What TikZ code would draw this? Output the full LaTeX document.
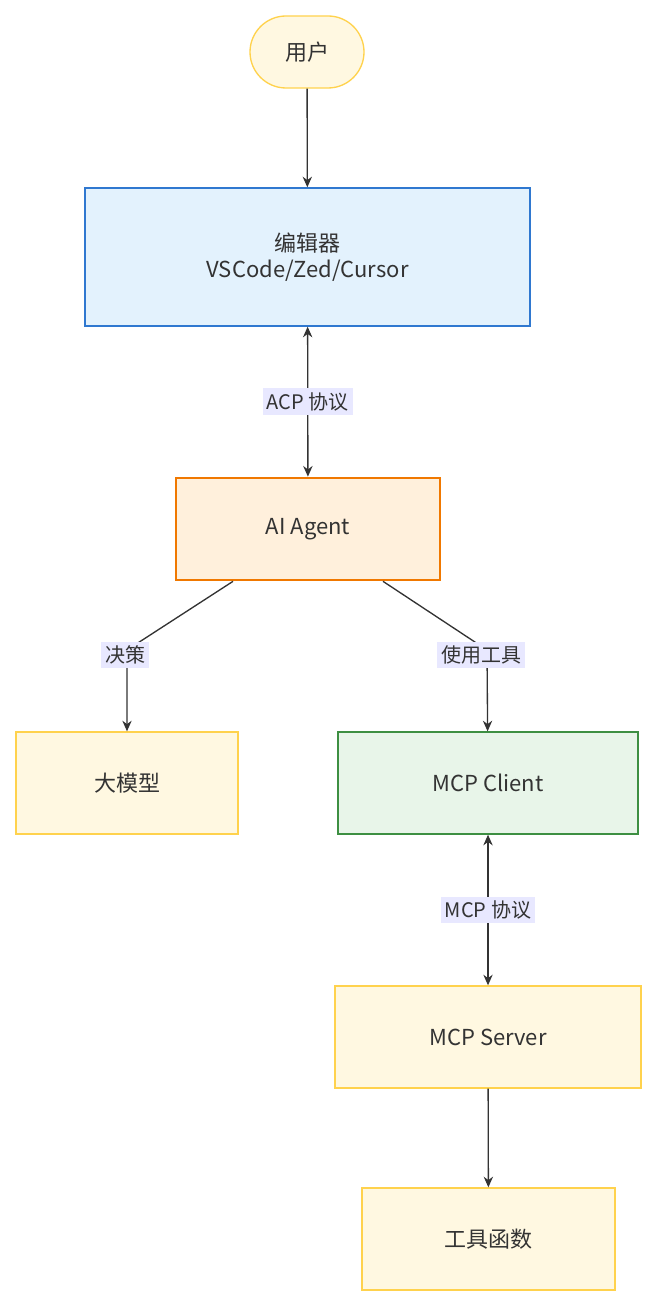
\documentclass[tikz,border=0pt]{standalone}
\usepackage{fontspec}
\setmainfont{Noto Sans CJK SC}
\usetikzlibrary{arrows.meta,positioning}
\definecolor{ink}{HTML}{333333}
\definecolor{yfill}{HTML}{FFF8E1}
\definecolor{ydraw}{HTML}{FFD24D}
\definecolor{bfill}{HTML}{E3F2FD}
\definecolor{bdraw}{HTML}{2F78D0}
\definecolor{ofill}{HTML}{FFF0DC}
\definecolor{odraw}{HTML}{F07800}
\definecolor{gfill}{HTML}{E8F5E9}
\definecolor{gdraw}{HTML}{3D8F42}
\definecolor{lblfill}{HTML}{E8E8FF}
\begin{document}
\begin{tikzpicture}[x=0.75pt,y=-0.75pt,>={Stealth[length=8pt,width=7pt]},
    font=\fontsize{16.5}{19}\selectfont,text=ink,
    box/.style={draw,line width=1pt,inner sep=0pt},
    plain box/.style={box,fill=yfill,draw=ydraw},
    arr/.style={->,draw=ink,line width=1pt},
    biarr/.style={<->,draw=ink,line width=1pt},
    lbl/.style={fill=lblfill,inner sep=3pt,font=\fontsize{15}{18}\selectfont}]
  \useasboundingbox (0,0) rectangle (658,1308);

  \node[box,fill=yfill,draw=ydraw,rounded corners=27pt,minimum width=85.5pt,minimum height=54pt] (user) at (307,52) {用户};
  \node[box,fill=bfill,draw=bdraw,minimum width=333.75pt,minimum height=103.5pt,align=center] (editor) at (307.5,257) {编辑器\\VSCode/Zed/Cursor};
  \node[box,fill=ofill,draw=odraw,line width=2pt,minimum width=198pt,minimum height=76.5pt] (agent) at (308,529) {AI Agent};
  \node[plain box,minimum width=166.5pt,minimum height=76.5pt] (model) at (127,783) {大模型};
  \node[box,fill=gfill,draw=gdraw,minimum width=225pt,minimum height=76.5pt] (client) at (488,783) {MCP Client};
  \node[plain box,minimum width=229.5pt,minimum height=76.5pt] (server) at (488,1037) {MCP Server};
  \node[plain box,minimum width=189.75pt,minimum height=76.5pt] (tools) at (488.5,1239) {工具函数};

  \coordinate (bendL) at (127,650);
  \coordinate (bendR) at (487,650);

  \draw[arr] (user) -- (editor);
  \draw[biarr] (editor) -- node[lbl] {ACP 协议} (agent);
  \draw[arr] ([xshift=-56.25pt]agent.south) -- (bendL) -- (model);
  \draw[arr] ([xshift=56.25pt]agent.south) -- (bendR) -- (client);
  \node[lbl] (decide) at (125,655) {决策};
  \node[lbl] (use) at (481,655) {使用工具};
  \draw[biarr] (client) -- node[lbl] {MCP 协议} (server);
  \draw[arr] (server) -- (tools);
\end{tikzpicture}
\end{document}
